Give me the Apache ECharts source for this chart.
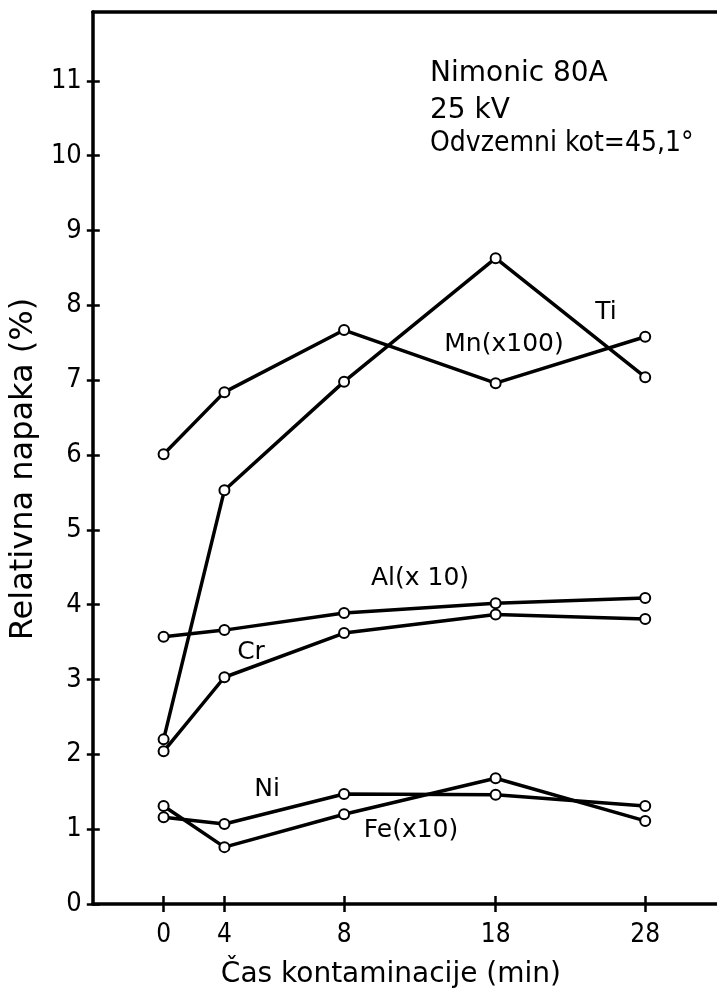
<!DOCTYPE html>
<html>
<head>
<meta charset="utf-8">
<script src="https://cdn.jsdelivr.net/npm/echarts@6/dist/echarts.min.js"></script>
<style>
html,body{margin:0;padding:0;background:#fff;}
#chart{width:717px;height:994px;}
</style>
</head>
<body>
<div id="chart"></div>
<script>
// Tick labels of the (hand-drawn, non-uniform) time axis and their positions along the axis
const xTickLabels = ['0', '4', '8', '18', '28'];
const xTickPos = [0, 6.1, 18.1, 33.3, 48.3];

// Relative error (%) per element
const Mn = [6.01, 6.84, 7.67, 6.96, 7.58];   // Mn (x100)
const Ti = [2.20, 5.53, 6.98, 8.63, 7.04];
const Al = [3.57, 3.66, 3.89, 4.02, 4.09];   // Al (x 10)
const Cr = [2.04, 3.03, 3.62, 3.87, 3.81];
const Ni = [1.16, 1.07, 1.47, 1.46, 1.31];
const Fe = [1.31, 0.76, 1.20, 1.68, 1.11];   // Fe (x10)

const yTicks = [0, 1, 2, 3, 4, 5, 6, 7, 8, 9, 10, 11];

const seriesList = [
  ['Mn', Mn], ['Ti', Ti], ['Al', Al], ['Cr', Cr], ['Ni', Ni], ['Fe', Fe]
];

const FONT = 'DejaVu Sans';
const FONT_C = "'DejaVu Sans Condensed', 'DejaVu Sans'";

const chart = echarts.init(document.getElementById('chart'), null, {renderer: 'canvas'});

function xLabel(v) {
  for (let i = 0; i < xTickPos.length; i++) {
    if (Math.abs(xTickPos[i] - v) < 1e-6) return xTickLabels[i];
  }
  return '';
}

const axisLineStyle = {color: '#000', width: 3.5};
const tickStyle = {color: '#000', width: 2.5};

const option = {
  backgroundColor: '#fff',
  animation: false,
  grid: {left: 91, right: 0, top: 12, bottom: 90, containLabel: false},
  xAxis: [
    {
      type: 'value', min: -7.1, max: 55.5,
      position: 'bottom',
      axisLine: {show: true, onZero: false, lineStyle: axisLineStyle},
      axisTick: {show: true, inside: false, length: 8, lineStyle: tickStyle, customValues: xTickPos},
      axisLabel: {show: true, margin: 18, color: '#000', fontFamily: FONT_C, fontSize: 26, customValues: xTickPos, formatter: xLabel},
      splitLine: {show: false},
      name: 'Čas kontaminacije (min)',
      nameLocation: 'middle',
      nameGap: 57,
      nameTextStyle: {color: '#000', fontFamily: FONT, fontSize: 28, padding: [0, 28, 0, 0]}
    },
    {
      type: 'value', min: -7.1, max: 55.5,
      position: 'bottom',
      axisLine: {show: false, onZero: false},
      axisTick: {show: true, inside: true, length: 8, lineStyle: tickStyle, customValues: xTickPos},
      axisLabel: {show: false},
      splitLine: {show: false}
    },
    {
      type: 'value', min: -7.1, max: 55.5,
      position: 'top',
      axisLine: {show: true, onZero: false, lineStyle: axisLineStyle},
      axisTick: {show: false},
      axisLabel: {show: false},
      splitLine: {show: false}
    }
  ],
  yAxis: [
    {
      type: 'value', min: 0, max: 11.92,
      position: 'left',
      axisLine: {show: true, onZero: false, lineStyle: axisLineStyle},
      axisTick: {show: true, inside: false, length: 6, lineStyle: tickStyle, customValues: yTicks},
      axisLabel: {show: true, margin: 11, color: '#000', fontFamily: FONT_C, fontSize: 27, customValues: yTicks},
      splitLine: {show: false},
      name: 'Relativna napaka (%)',
      nameLocation: 'middle',
      nameGap: 47,
      nameRotate: 90,
      nameTextStyle: {color: '#000', fontFamily: FONT, fontSize: 32, padding: [0, 0, 0, -22]}
    },
    {
      type: 'value', min: 0, max: 11.92,
      position: 'left',
      axisLine: {show: false, onZero: false},
      axisTick: {show: true, inside: true, length: 7, lineStyle: tickStyle, customValues: yTicks},
      axisLabel: {show: false},
      splitLine: {show: false}
    }
  ],
  series: seriesList.map(function (s) {
    return {
      name: s[0],
      type: 'line',
      xAxisIndex: 0,
      yAxisIndex: 0,
      data: s[1].map(function (v, i) { return [xTickPos[i], v]; }),
      symbol: 'circle',
      symbolSize: 10,
      showAllSymbol: true,
      lineStyle: {color: '#000', width: 3.5},
      itemStyle: {color: '#fff', borderColor: '#000', borderWidth: 2},
      emphasis: {disabled: true},
      z: 3
    };
  }),
  graphic: [
    {type: 'text', left: 430, top: 60, style: {text: 'Nimonic 80A', fill: '#000', font: '28px ' + FONT}},
    {type: 'text', left: 430, top: 97, style: {text: '25 kV', fill: '#000', font: '28px ' + FONT}},
    {type: 'text', left: 430, top: 130, style: {text: 'Odvzemni kot=45,1°', fill: '#000', font: '28px ' + FONT_C}},
    {type: 'text', x: 606, y: 312, style: {text: 'Ti', fill: '#000', font: '25px ' + FONT, align: 'center', verticalAlign: 'middle'}},
    {type: 'text', x: 504, y: 344, style: {text: 'Mn(x100)', fill: '#000', font: '25px ' + FONT, align: 'center', verticalAlign: 'middle'}},
    {type: 'text', x: 420, y: 578, style: {text: 'Al(x 10)', fill: '#000', font: '25px ' + FONT, align: 'center', verticalAlign: 'middle'}},
    {type: 'text', x: 251, y: 652, style: {text: 'Cr', fill: '#000', font: '25px ' + FONT, align: 'center', verticalAlign: 'middle'}},
    {type: 'text', x: 267, y: 789, style: {text: 'Ni', fill: '#000', font: '25px ' + FONT, align: 'center', verticalAlign: 'middle'}},
    {type: 'text', x: 411, y: 830, style: {text: 'Fe(x10)', fill: '#000', font: '25px ' + FONT, align: 'center', verticalAlign: 'middle'}}
  ]
};

chart.setOption(option);
</script>
</body>
</html>
